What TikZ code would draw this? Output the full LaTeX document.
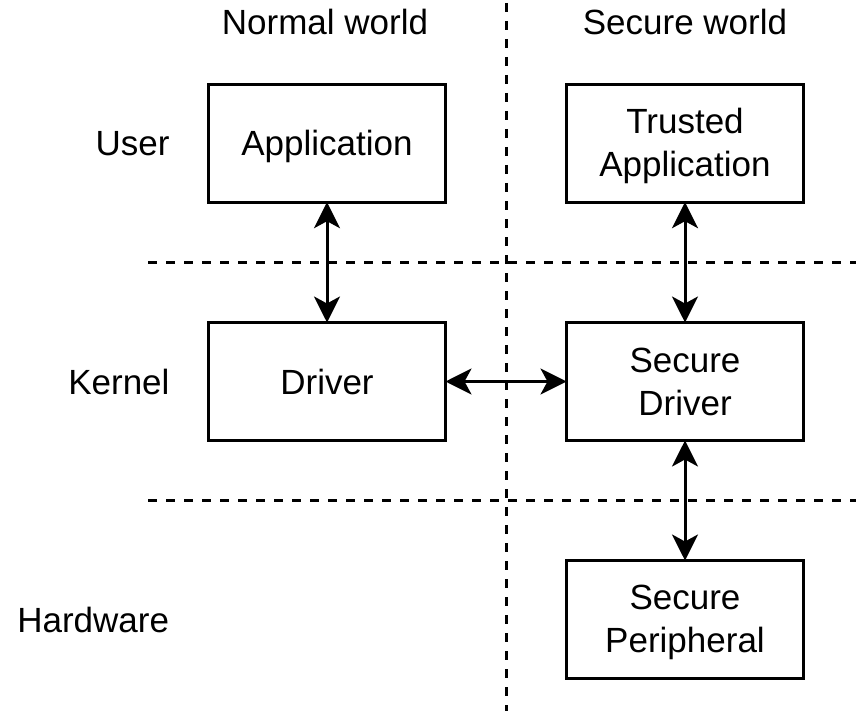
\documentclass[tikz,border=0pt]{standalone}
\usepackage{fontspec}
\setmainfont{Liberation Sans}
\usetikzlibrary{arrows.meta}

% strut that fixes the vertical placement of every text line
\newcommand{\lnstrut}{\rule[-6pt]{0pt}{37pt}}

\tikzset{
  every node/.style={font=\fontsize{35}{43}\selectfont, inner sep=0pt, outer sep=0pt},
  block/.style={draw, line width=3pt, minimum width=237pt, minimum height=118pt, align=center},
  divider/.style={line width=3pt, dash pattern=on 9pt off 9pt},
  link/.style={line width=3pt, {Stealth[length=26pt, width=26pt, inset=7pt]}-{Stealth[length=26pt, width=26pt, inset=7pt]}},
  layer/.style={anchor=east},
  world/.style={anchor=base}
}

\begin{document}
\begin{tikzpicture}[x=1pt, y=-1pt]
  \useasboundingbox (0,0) rectangle (856,714);

  % world and layer separators
  \coordinate (vtop) at (506,3);
  \coordinate (vbot) at (506,711);
  \coordinate (h1l) at (148,262);
  \coordinate (h1r) at (856,262);
  \coordinate (h2l) at (148,500);
  \coordinate (h2r) at (856,500);
  \draw[divider] (vtop) -- (vbot);
  \draw[divider] (h1l) -- (h1r);
  \draw[divider] (h2l) -- (h2r);

  % column headings
  \node[world] (normal) at (325,34.3) {Normal world};
  \node[world] (secure) at (685,34.3) {Secure world};

  % row headings
  \node[layer] (user) at (169.5,143.2) {\lnstrut User};
  \node[layer] (kernel) at (169.5,381.5) {\lnstrut Kernel};
  \node[layer] (hardware) at (169,619.5) {\lnstrut Hardware};

  % components
  \node[block] (app) at (327,143.2) {\lnstrut Application};
  \node[block] (tapp) at (685,143.2) {\lnstrut Trusted\\\lnstrut Application};
  \node[block] (drv) at (327,381.5) {\lnstrut Driver};
  \node[block] (sdrv) at (685,381.5) {\lnstrut Secure\\\lnstrut Driver};
  \node[block] (sper) at (685,619.5) {\lnstrut Secure\\\lnstrut Peripheral};

  % communication paths
  \draw[link] (app) -- (drv);
  \draw[link] (drv) -- (sdrv);
  \draw[link] (tapp) -- (sdrv);
  \draw[link] (sdrv) -- (sper);
\end{tikzpicture}
\end{document}
